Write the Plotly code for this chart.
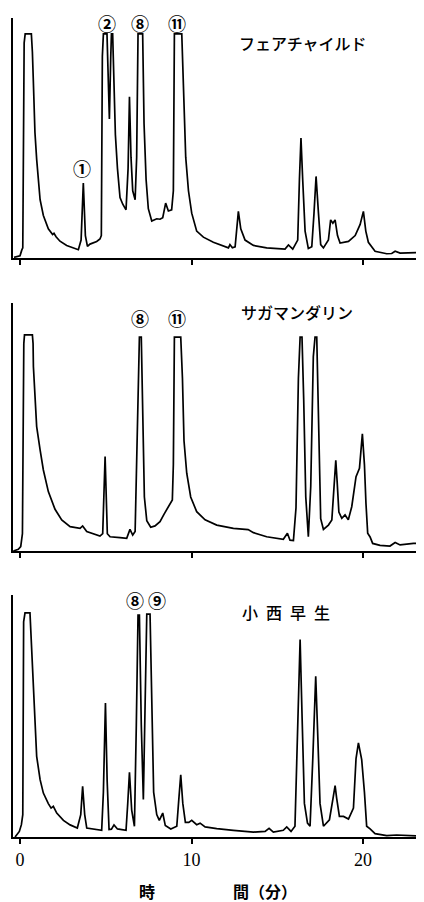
import plotly.graph_objects as go

# ---------------- data (retention time in min, detector signal; 100 = recorder full scale) ----------------
t_fair = [-0.35, 0.0, 0.10, 0.16, 0.24, 0.30, 0.66, 0.72, 0.78, 0.87, 0.97, 1.17, 1.36, 1.65, 1.90, 1.98,
          2.10, 2.33, 2.72, 3.11, 3.40, 3.56, 3.69, 3.81, 3.93, 4.08, 4.47, 4.66, 4.74, 4.80, 4.86, 5.07,
          5.13, 5.21, 5.29, 5.33, 5.40, 5.48, 5.56, 5.68, 5.83, 5.99, 6.18, 6.30, 6.38, 6.47, 6.57, 6.71,
          6.80, 6.88, 7.15, 7.23, 7.35, 7.48, 7.68, 7.97, 8.16, 8.32, 8.49, 8.65, 8.84, 8.94, 9.00, 9.43,
          9.52, 9.66, 9.82, 10.01, 10.30, 10.69, 11.27, 11.86, 12.15, 12.24, 12.38, 12.54, 12.67, 12.73,
          12.87, 13.12, 13.61, 14.38, 15.45, 15.65, 15.90, 16.19, 16.29, 16.38, 16.48, 16.62, 16.81, 17.01,
          17.14, 17.26, 17.40, 17.53, 17.69, 17.98, 18.11, 18.24, 18.37, 18.51, 18.66, 19.15, 19.54, 19.83,
          20.02, 20.16, 20.31, 20.51, 20.70, 21.38, 21.67, 21.87, 22.16, 23.32]
s_fair = [0.3, 1.0, 3.5, 4.5, 96, 100, 100, 92, 78, 56, 44, 26, 19, 13, 10.5, 11,
          9.5, 7.5, 5.6, 4.3, 3.7, 8, 33.4, 10, 5.2, 6.2, 7.4, 8.5, 10, 90, 100, 100,
          85, 62, 90, 100, 100, 75, 55, 40, 27, 24, 21.5, 40, 72, 45, 30, 26,
          45, 100, 100, 60, 35, 22, 16.5, 17.5, 17.3, 18, 24.5, 21, 21.5, 30, 100, 100,
          75, 45, 30, 20, 12, 9.3, 7, 5.5, 4.5, 6, 4.6, 5, 15, 20.8,
          13, 8, 5.6, 4.5, 4.0, 5.8, 4.0, 8, 35, 53.5, 35, 12, 4.2, 5,
          20, 36.4, 20, 6, 4.5, 8, 17, 15.5, 17, 10, 6.7, 7.4, 10, 15,
          20.8, 12, 7, 5, 3.0, 1.9, 2.0, 3.0, 2.2, 2.5]

t_saga = [-0.39, -0.10, 0.04, 0.14, 0.22, 0.26, 0.72, 0.76, 0.78, 0.87, 0.97, 1.17, 1.36, 1.65, 2.04, 2.43,
          2.92, 3.50, 3.65, 3.89, 4.66, 4.82, 4.96, 5.09, 5.25, 5.83, 6.22, 6.41, 6.57, 6.71, 6.84, 6.96,
          7.07, 7.15, 7.25, 7.39, 7.62, 7.87, 8.16, 8.40, 8.65, 8.88, 8.94, 9.00, 9.37, 9.47, 9.56, 9.72,
          9.95, 10.30, 10.79, 11.47, 12.44, 13.22, 13.30, 13.61, 14.38, 15.35, 15.59, 15.74, 15.94, 16.09,
          16.23, 16.33, 16.44, 16.54, 16.66, 16.81, 16.95, 17.10, 17.20, 17.30, 17.42, 17.53, 17.69, 17.98,
          18.18, 18.31, 18.41, 18.49, 18.59, 18.76, 18.95, 19.14, 19.34, 19.59, 19.79, 19.96, 20.08, 20.17,
          20.27, 20.41, 20.56, 20.99, 21.57, 21.87, 22.16, 22.94, 23.42]
s_saga = [0.0, 0.8, 2.0, 8, 96, 100, 100, 96, 85.3, 69.9, 57.6, 46.8, 37.5, 27.5, 19.3, 14.4,
          11.3, 10.5, 11.6, 9.0, 6.9, 8, 43.7, 8, 6.6, 6.2, 5.9, 10, 7.4, 9, 50, 99,
          99, 60, 25, 14, 11, 11.6, 13.6, 17.1, 20.2, 23.6, 40, 99, 99, 80, 51, 36,
          25, 18.2, 14.4, 12.0, 10.5, 9.7, 9.9, 8.5, 6.6, 5.4, 8.2, 5, 4.8, 20,
          80, 99, 99, 70, 25, 6.6, 30, 90, 99, 99, 60, 15, 10, 12,
          14.4, 30, 42, 32, 18, 15.1, 16.7, 14.4, 20.5, 34.4, 38.3, 54.2, 40, 22,
          8.2, 6.5, 3.5, 2.6, 2.3, 3.9, 2.8, 3.5, 3.5]

t_koni = [-0.29, -0.04, 0.08, 0.16, 0.21, 0.29, 0.58, 0.64, 0.72, 0.78, 0.87, 0.97, 1.17, 1.36, 1.65, 1.81,
          1.94, 2.14, 2.53, 2.92, 3.34, 3.54, 3.65, 3.77, 3.89, 4.47, 4.76, 4.86, 4.98, 5.08, 5.19, 5.33,
          5.48, 5.68, 6.18, 6.28, 6.38, 6.51, 6.67, 6.78, 6.88, 6.96, 7.07, 7.19, 7.31, 7.39, 7.58, 7.68,
          7.79, 7.97, 8.12, 8.32, 8.47, 8.79, 9.14, 9.27, 9.37, 9.49, 9.64, 9.84, 10.01, 10.30, 10.50, 10.79,
          11.47, 12.44, 13.61, 14.29, 14.52, 14.77, 15.35, 15.55, 15.80, 16.03, 16.19, 16.33, 16.44, 16.58,
          16.76, 16.91, 17.07, 17.24, 17.36, 17.49, 17.69, 18.04, 18.27, 18.37, 18.46, 18.62, 18.86, 19.15,
          19.44, 19.59, 19.73, 19.92, 20.08, 20.21, 20.41, 20.70, 21.38, 21.96, 23.52]
s_koni = [0.0, 2.5, 5.5, 10, 96, 100, 100, 90, 77.7, 62.8, 47.9, 36, 25.6, 19.6, 14.9, 12.9,
          13.7, 10.7, 7.4, 5.4, 4.0, 10, 22.6, 10, 4.0, 3.3, 3.0, 20, 59.8, 25, 3.3, 3.5,
          5.4, 3.6, 3.0, 15, 28.9, 12, 4.8, 50, 99, 99, 50, 16.7, 60, 99.5, 99.5, 60,
          20, 10, 7.4, 10.7, 5.1, 3.6, 4.8, 18, 27.8, 15, 6.5, 6.5, 7.4, 5.5, 6.2, 4.5,
          3.7, 3.0, 2.2, 2.5, 3.9, 2.2, 3.0, 4.5, 2.5, 4.8, 45, 88.1, 55, 15,
          6.2, 4.8, 35, 71.7, 45, 15, 4.8, 7.7, 18.2, 22.9, 17.4, 9.2, 9.2, 8.0,
          12.9, 35, 42, 34.5, 20, 4.8, 3.6, 1.5, 0.6, 0.9, 0.3]

sample_names = ["フェアチャイルド", "サガマンダリン", "小\u2002西\u2002早\u2002生"]
tick_vals = [0, 10, 20]
tick_text = ["0", "10", "20"]

# peak labels: (panel, time, signal, label)
peak_labels = [
    (1, 3.62, 40.2, "①"), (1, 5.06, 105.0, "②"), (1, 7.0, 105.0, "⑧"), (1, 9.15, 105.0, "⑪"),
    (2, 7.0, 107.9, "⑧"), (2, 9.15, 107.9, "⑪"),
    (3, 6.7, 105.8, "⑧"), (3, 7.99, 105.8, "⑨"),
]
name_pos = [(1, 16.5, 96.0), (2, 16.15, 110.6), (3, 15.5, 100.4)]

# ---------------- figure ----------------
# the page body has an 8 px default margin, so the figure is drawn 8 px smaller and offset accordingly
series = [(t_fair, s_fair), (t_saga, s_saga), (t_koni, s_koni)]
domains = [[0.70696, 1.0], [0.34921, 0.65201], [0.0, 0.29548]]
yranges = [[0, 107.1], [0, 114.8], [0, 108.0]]
xrange_ = [-0.41, 23.32]

fig = go.Figure()
for i, (tt, ss) in enumerate(series):
    k = "" if i == 0 else str(i + 1)
    fig.add_trace(go.Scatter(x=tt, y=ss, mode="lines", xaxis="x" + k, yaxis="y" + k,
                             line=dict(color="black", width=1.7), showlegend=False,
                             hoverinfo="skip"))

layout = dict(
    width=416, height=894,
    margin=dict(l=5, r=4, t=10, b=65, autoexpand=False),
    paper_bgcolor="white", plot_bgcolor="white",
    showlegend=False,
)
for i in range(3):
    k = "" if i == 0 else str(i + 1)
    layout["xaxis" + k] = dict(
        domain=[0, 1], anchor="y" + k, range=xrange_, showgrid=False, zeroline=False,
        showline=True, linecolor="black", linewidth=2,
        ticks="outside", tickvals=tick_vals, ticktext=tick_text, ticklen=5, tickwidth=2,
        tickcolor="black", showticklabels=(i == 2),
        tickfont=dict(family="Liberation Serif", size=18, color="black"),
    )
    layout["yaxis" + k] = dict(
        domain=domains[i], anchor="x" + k, range=yranges[i], showgrid=False, zeroline=False,
        showline=True, linecolor="black", linewidth=2, ticks="", showticklabels=False,
    )
fig.update_layout(**layout)

ann = []
for p, tx, sy, lab in peak_labels:
    k = "" if p == 1 else str(p)
    ann.append(dict(x=tx, y=sy, xref="x" + k, yref="y" + k, text=lab, showarrow=False,
                    xanchor="center", yanchor="middle", borderpad=0,
                    font=dict(family="Noto Sans CJK JP", size=18, color="black", weight=700)))
for (p, tx, sy), nm in zip(name_pos, sample_names):
    k = "" if p == 1 else str(p)
    ann.append(dict(x=tx, y=sy, xref="x" + k, yref="y" + k, text=nm, showarrow=False,
                    xanchor="center", yanchor="middle",
                    font=dict(family="Noto Sans CJK JP", size=16, color="black", weight=500)))
ann.append(dict(x=0.329, y=-0.0659, xref="paper", yref="paper", text="時", showarrow=False,
                xanchor="center", yanchor="middle",
                font=dict(family="Noto Sans CJK JP", size=16, color="black", weight=700)))
ann.append(dict(x=0.619, y=-0.0659, xref="paper", yref="paper", text="間（分）", showarrow=False,
                xanchor="center", yanchor="middle",
                font=dict(family="Noto Sans CJK JP", size=16, color="black", weight=700)))
fig.update_layout(annotations=ann)

fig.write_html("out.html", config={"displayModeBar": False})
